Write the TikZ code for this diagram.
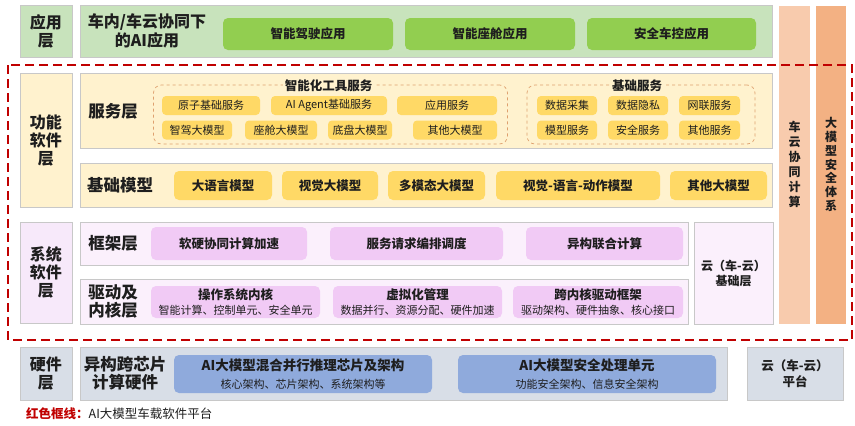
\documentclass[tikz,border=0pt]{standalone}
\usepackage{fontspec}
\setmainfont{Noto Sans CJK SC}
\usetikzlibrary{positioning}

\definecolor{ink}{RGB}{30,30,30}
\definecolor{edgegray}{RGB}{200,200,200}
\definecolor{appbg}{RGB}{200,227,188}
\definecolor{appbtn}{RGB}{146,206,80}
\definecolor{funcbg}{RGB}{255,242,206}
\definecolor{funcbtn}{RGB}{255,217,102}
\definecolor{grpline}{RGB}{222,160,110}
\definecolor{sysbg}{RGB}{251,240,252}
\definecolor{systag}{RGB}{247,233,250}
\definecolor{sysbtn}{RGB}{241,202,245}
\definecolor{hwbg}{RGB}{216,222,231}
\definecolor{hwbtn}{RGB}{143,170,220}
\definecolor{peachA}{RGB}{248,203,173}
\definecolor{peachB}{RGB}{243,177,131}
\definecolor{framered}{RGB}{192,0,0}

\begin{document}
\begin{tikzpicture}[x=1pt, y=-1pt,
  every node/.append style={text=ink},
  layer/.style={draw=edgegray, line width=0.8pt, inner sep=0pt},
  tag/.style={layer, align=center, font=\fontsize{16}{18}\selectfont\bfseries},
  btn/.style={rounded corners=5pt, inner sep=0pt, align=center,
              font=\fontsize{12.5}{15}\selectfont\bfseries},
  item/.style={rounded corners=4pt, fill=funcbtn, inner sep=0pt,
               minimum height=19pt, font=\fontsize{11}{13}\selectfont},
  grp/.style={draw=grpline, dashed, rounded corners=8pt, line width=0.7pt, inner sep=0pt},
  head/.style={align=center, font=\fontsize{16.5}{18}\selectfont\bfseries},
  col/.style={inner sep=0pt, align=center}
]
  \useasboundingbox (0,0) rectangle (855,426);

  % application layer
  \node[tag, fill=appbg, minimum width=52pt, minimum height=52pt] (appL) at (46,31) {应用\\层};
  \node[layer, fill=appbg, minimum width=692pt, minimum height=52pt] (appM) at (426,31) {};
  \node[head, font=\fontsize{16}{19}\selectfont\bfseries] (appT) at (147,31) {车内/车云协同下\\的AI应用};
  \node[btn, fill=appbtn, minimum width=170pt, minimum height=32pt] (app1) at (308,34) {智能驾驶应用};
  \node[btn, fill=appbtn, minimum width=170pt, minimum height=32pt] (app2) at (490,34) {智能座舱应用};
  \node[btn, fill=appbtn, minimum width=169pt, minimum height=32pt] (app3) at (671.5,34) {安全车控应用};

  % side columns
  \node[col, fill=peachA, minimum width=31pt, minimum height=318pt,
        font=\fontsize{12}{15}\selectfont\bfseries] (cvc) at (794.5,164.5)
      {车\\云\\协\\同\\计\\算};
  \node[col, fill=peachB, minimum width=30pt, minimum height=318pt,
        font=\fontsize{12}{13.7}\selectfont\bfseries] (sec) at (831,164.5)
      {大\\模\\型\\安\\全\\体\\系};

  % function software layer
  \node[tag, fill=funcbg, minimum width=52pt, minimum height=134pt] (funcL) at (46,140) {功能\\软件\\层};
  \node[layer, fill=funcbg, minimum width=692pt, minimum height=75pt] (svc) at (426.5,110.5) {};
  \node[head] (svcT) at (113,111) {服务层};
  \node[grp, minimum width=354pt, minimum height=59pt] (tools) at (330.5,114.5) {};
  \node[fill=funcbg, inner sep=2pt, font=\fontsize{12.5}{14}\selectfont\bfseries] (toolsT) at (328.5,86) {智能化工具服务};
  \node[grp, minimum width=228pt, minimum height=59pt] (base) at (641,114.5) {};
  \node[fill=funcbg, inner sep=2pt, font=\fontsize{12.5}{14}\selectfont\bfseries] (baseT) at (637,86) {基础服务};

  \node[item, minimum width=98pt]  (t1) at (211,105.5) {原子基础服务};
  \node[item, minimum width=116pt] (t2) at (329,105.5) {AI Agent基础服务};
  \node[item, minimum width=100pt] (t3) at (447,105.5) {应用服务};
  \node[item, minimum width=70pt]  (t4) at (197,130) {智驾大模型};
  \node[item, minimum width=72pt]  (t5) at (281,130) {座舱大模型};
  \node[item, minimum width=64pt]  (t6) at (360,130) {底盘大模型};
  \node[item, minimum width=84pt]  (t7) at (455,130) {其他大模型};

  \node[item, minimum width=60pt] (b1) at (567,105.5) {数据采集};
  \node[item, minimum width=60pt] (b2) at (638,105.5) {数据隐私};
  \node[item, minimum width=61pt] (b3) at (709.5,105.5) {网联服务};
  \node[item, minimum width=60pt] (b4) at (567,130) {模型服务};
  \node[item, minimum width=60pt] (b5) at (638,130) {安全服务};
  \node[item, minimum width=61pt] (b6) at (709.5,130) {其他服务};

  \node[layer, fill=funcbg, minimum width=692pt, minimum height=44pt] (mdl) at (426.5,185) {};
  \node[head] (mdlT) at (120,185) {基础模型};
  \node[btn, fill=funcbtn, minimum width=98pt,  minimum height=29pt] (m1) at (223,185.5) {大语言模型};
  \node[btn, fill=funcbtn, minimum width=96pt,  minimum height=29pt] (m2) at (330,185.5) {视觉大模型};
  \node[btn, fill=funcbtn, minimum width=97pt,  minimum height=29pt] (m3) at (436.5,185.5) {多模态大模型};
  \node[btn, fill=funcbtn, minimum width=164pt, minimum height=29pt] (m4) at (578,185.5) {视觉-语言-动作模型};
  \node[btn, fill=funcbtn, minimum width=97pt,  minimum height=29pt] (m5) at (718.5,185.5) {其他大模型};

  % system software layer
  \node[tag, fill=systag, minimum width=52pt, minimum height=101pt] (sysL) at (46,272.5) {系统\\软件\\层};
  \node[layer, fill=sysbg, minimum width=608pt, minimum height=43pt] (fw) at (384,243.5) {};
  \node[head] (fwT) at (113,243.5) {框架层};
  \node[btn, fill=sysbtn, minimum width=156pt, minimum height=33pt] (f1) at (229,243.5) {软硬协同计算加速};
  \node[btn, fill=sysbtn, minimum width=173pt, minimum height=33pt] (f2) at (416.5,243.5) {服务请求编排调度};
  \node[btn, fill=sysbtn, minimum width=157pt, minimum height=33pt] (f3) at (604.5,243.5) {异构联合计算};

  \node[layer, fill=sysbg, minimum width=608pt, minimum height=45pt] (drv) at (384,301.5) {};
  \node[head] (drvT) at (113,301.5) {驱动及\\内核层};
  \node[btn, fill=sysbtn, minimum width=169pt, minimum height=32pt] (d1) at (235.5,302)
      {操作系统内核\\{\mdseries\fontsize{11}{13}\selectfont 智能计算、控制单元、安全单元}};
  \node[btn, fill=sysbtn, minimum width=169pt, minimum height=32pt] (d2) at (417.5,302)
      {虚拟化管理\\{\mdseries\fontsize{11}{13}\selectfont 数据并行、资源分配、硬件加速}};
  \node[btn, fill=sysbtn, minimum width=170pt, minimum height=32pt] (d3) at (598,302)
      {跨内核驱动框架\\{\mdseries\fontsize{11}{13}\selectfont 驱动架构、硬件抽象、核心接口}};

  \node[layer, fill=sysbg, align=center, minimum width=79pt, minimum height=102pt,
        font=\fontsize{12}{15}\selectfont\bfseries] (cloudB) at (733.5,273) {云（车-云）\\基础层};

  % red frame
  \draw[framered, dashed, dash pattern=on 9pt off 5pt, line width=2pt] (8,65) rectangle (852,340);

  % hardware layer
  \node[tag, fill=hwbg, minimum width=52pt, minimum height=53pt] (hwL) at (46,373.5) {硬件\\层};
  \node[layer, fill=hwbg, minimum width=647pt, minimum height=53pt] (hw) at (403.5,373.5) {};
  \node[head] (hwT) at (125,373.5) {异构跨芯片\\计算硬件};
  \node[btn, fill=hwbtn, minimum width=258pt, minimum height=38pt,
        font=\fontsize{13.5}{18}\selectfont\bfseries] (h1) at (303,374)
      {AI大模型混合并行推理芯片及架构\\{\mdseries\fontsize{11}{13}\selectfont 核心架构、芯片架构、系统架构等}};
  \node[btn, fill=hwbtn, minimum width=258pt, minimum height=38pt,
        font=\fontsize{13.5}{18}\selectfont\bfseries] (h2) at (587,374)
      {AI大模型安全处理单元\\{\mdseries\fontsize{11}{13}\selectfont 功能安全架构、信息安全架构}};
  \node[layer, fill=hwbg, align=center, minimum width=96pt, minimum height=53pt,
        font=\fontsize{12.5}{16}\selectfont\bfseries] (hwC) at (795,373.5) {云（车-云）\\平台};

  % legend
  \node[anchor=west, inner sep=0pt, font=\fontsize{12.5}{14}\selectfont] (legend) at (26,414)
      {\textcolor{framered}{\bfseries 红色框线：}AI大模型车载软件平台};
\end{tikzpicture}
\end{document}
